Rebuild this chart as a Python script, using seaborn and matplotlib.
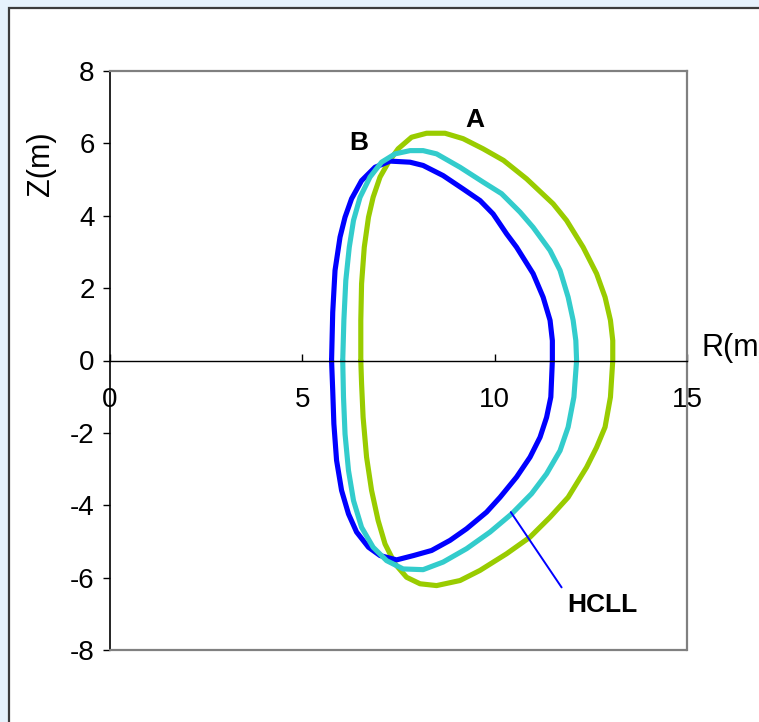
import numpy as np
import pandas as pd
import matplotlib
matplotlib.use("Agg")
import matplotlib.pyplot as plt
import seaborn as sns
from matplotlib.patches import Rectangle

sns.set_theme(style="white")
plt.rcParams["font.family"] = ["Liberation Sans", "DejaVu Sans"]
plt.rcParams["text.color"] = "black"
plt.rcParams["xtick.color"] = "black"
plt.rcParams["ytick.color"] = "black"

# ---- data (R, Z in metres) ----
blue_R = [5.76, 5.79, 5.85, 5.98, 6.11, 6.28, 6.54, 6.89, 7.28, 7.80, 8.14, 8.66, 9.18, 9.62, 9.96,
          10.31, 10.57, 11.00, 11.26, 11.44, 11.50, 11.50,
          11.46, 11.35, 11.18, 10.92, 10.57, 10.14, 9.79, 9.27, 8.84, 8.36, 7.89, 7.45, 7.02, 6.72,
          6.41, 6.20, 6.02, 5.89, 5.82, 5.79, 5.76]
blue_Z = [0, 1.33, 2.49, 3.41, 3.96, 4.47, 4.97, 5.34, 5.51, 5.48, 5.39, 5.11, 4.74, 4.42, 4.05,
          3.50, 3.13, 2.40, 1.75, 1.11, 0.55, 0,
          -1.01, -1.57, -2.12, -2.67, -3.22, -3.78, -4.19, -4.65, -4.97, -5.25, -5.39, -5.51, -5.39, -5.16,
          -4.74, -4.24, -3.59, -2.76, -1.75, -0.83, 0]

cyan_R = [6.05, 6.08, 6.13, 6.22, 6.33, 6.50, 6.76, 7.06, 7.41, 7.80, 8.14, 8.49, 9.10, 9.70, 10.18,
          10.66, 11.00, 11.44, 11.70, 11.91, 12.04, 12.11, 12.13,
          12.06, 11.91, 11.70, 11.35, 10.96, 10.44, 9.88, 9.27, 8.66, 8.14, 7.62, 7.19, 6.84, 6.54,
          6.33, 6.20, 6.11, 6.07, 6.05]
cyan_Z = [0, 1.11, 2.21, 3.13, 3.87, 4.51, 5.07, 5.48, 5.71, 5.80, 5.80, 5.71, 5.34, 4.93, 4.61,
          4.10, 3.68, 3.04, 2.49, 1.75, 1.11, 0.55, 0,
          -1.01, -1.84, -2.49, -3.13, -3.68, -4.24, -4.74, -5.20, -5.57, -5.78, -5.76, -5.53, -5.16, -4.61,
          -3.87, -3.04, -2.03, -1.01, 0]

green_R = [6.52, 6.52, 6.54, 6.61, 6.72, 6.84, 7.02, 7.24, 7.49, 7.84, 8.23, 8.71, 9.18, 9.70, 10.23,
           10.83, 11.52, 11.87, 12.30, 12.65, 12.87, 13.01, 13.07, 13.07,
           13.01, 12.87, 12.65, 12.39, 11.91, 11.44, 10.92, 10.31, 9.62, 9.10, 8.49, 8.06, 7.71, 7.41,
           7.15, 6.97, 6.80, 6.67, 6.58, 6.54, 6.52]
green_Z = [0, 1.11, 2.12, 3.13, 3.96, 4.51, 5.07, 5.48, 5.85, 6.17, 6.28, 6.28, 6.13, 5.85, 5.53,
           5.02, 4.33, 3.87, 3.13, 2.40, 1.75, 1.11, 0.55, 0,
           -1.01, -1.84, -2.40, -2.95, -3.78, -4.33, -4.88, -5.34, -5.80, -6.08, -6.22, -6.17, -5.99, -5.62,
           -5.07, -4.42, -3.59, -2.67, -1.57, -0.64, 0]

curve_names = ["A", "B", "HCLL"]
curve_colors = ["#99CC00", "#0000FF", "#33CCCC"]

x_ticks = [0, 5, 10, 15]
y_ticks = [-8, -6, -4, -2, 0, 2, 4, 6, 8]

labels_text = ["A", "B", "HCLL"]
labels_R = [9.48, 6.47, 12.80]
labels_Z = [6.65, 6.02, -6.77]
pointer_R = [10.42, 11.74]
pointer_Z = [-4.19, -6.27]

frames = []
for name, R, Z in zip(curve_names, [green_R, blue_R, cyan_R], [green_Z, blue_Z, cyan_Z]):
    frames.append(pd.DataFrame({"R": R, "Z": Z, "curve": name}))
df = pd.concat(frames, ignore_index=True)

# ---- figure ----
W, H = 759, 722
fig = plt.figure(figsize=(W / 100, H / 100), dpi=100)
fig.patch.set_facecolor("#E6F2FC")
fig.patches.append(Rectangle((9 / W, -0.02), 1.0, 1 - 8 / H + 0.02, transform=fig.transFigure,
                             facecolor="white", edgecolor="#3c3c3c", lw=1.6, zorder=-10))

ax = fig.add_axes([110 / W, 1 - 650 / H, 577 / W, 579 / H])
ax.set_zorder(5)
ax.set_facecolor("none")

sns.lineplot(data=df, x="R", y="Z", hue="curve", hue_order=curve_names,
             palette=dict(zip(curve_names, curve_colors)), sort=False, estimator=None,
             lw=3.7, legend=False, ax=ax, solid_joinstyle="round",
             solid_capstyle="round")

ax.set_xlim(0, 15)
ax.set_ylim(-8, 8)
ax.set_xlabel("")
ax.set_ylabel("")

# spines
ax.spines["bottom"].set_position(("data", 0))
ax.spines["bottom"].set_color("black")
ax.spines["bottom"].set_linewidth(1.0)
ax.spines["left"].set_color("black")
ax.spines["left"].set_linewidth(1.2)
for s in ["top", "right"]:
    ax.spines[s].set_color("#808080")
    ax.spines[s].set_linewidth(1.6)
ax.axhline(-8, color="#808080", lw=1.6, clip_on=False, zorder=5)

ax.set_xticks(x_ticks)
ax.set_xticklabels([str(v) for v in x_ticks])
ax.set_yticks(y_ticks)
ax.set_yticklabels([str(v) for v in y_ticks])
ax.tick_params(axis="x", direction="in", length=5, width=1, color="black",
               labelsize=20, pad=19, bottom=True, labelcolor="black")
ax.tick_params(axis="y", direction="out", length=5, width=1, color="black",
               labelsize=20, pad=6, left=True, labelcolor="black")

# annotations
for t, r, z in zip(labels_text, labels_R, labels_Z):
    ax.text(r, z, t, fontsize=19, fontweight="bold", ha="center", va="center", color="black")
ax.plot(pointer_R, pointer_Z, color="#0000FF", lw=1.4)

fig.text(41 / W, 1 - 164 / H, "Z(m)", rotation=90, ha="center", va="center", fontsize=22)
fig.text(701 / W, 1 - 356 / H, "R(m)", ha="left", va="baseline", fontsize=22)

fig.savefig("out.png", dpi=100, facecolor=fig.get_facecolor())
